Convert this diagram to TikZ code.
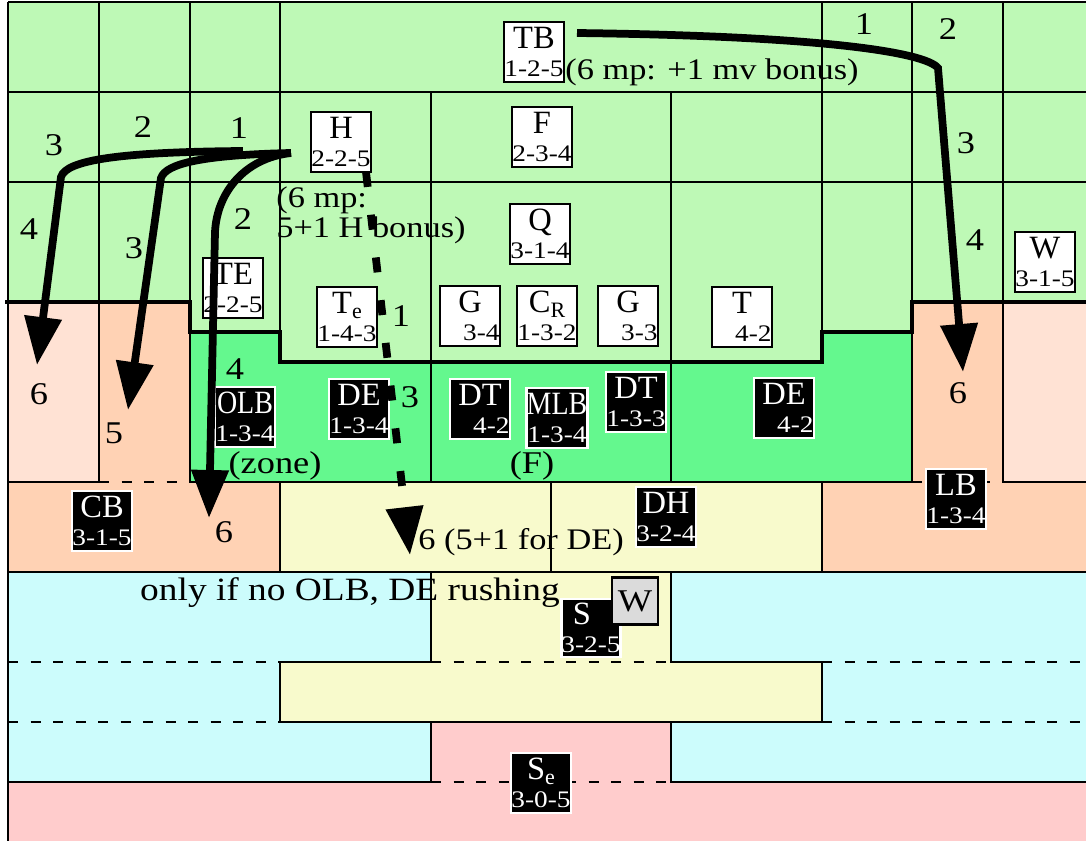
\documentclass[tikz,border=0pt]{standalone}
\usepackage{fontspec}
\setmainfont[FakeStretch=1.15]{Liberation Serif}
\newfontfamily\tagfont{Liberation Serif}
\newfontfamily\tagnarrow[FakeStretch=0.86]{Liberation Serif}
\usepackage{xcolor}
\definecolor{fieldgreen}{HTML}{BEF9B6}
\definecolor{linegreen}{HTML}{64F88E}
\definecolor{deepsalmon}{HTML}{FFD2B4}
\definecolor{palesalmon}{HTML}{FFE2D4}
\definecolor{zoneyellow}{HTML}{F8FACC}
\definecolor{zonecyan}{HTML}{CCFCFC}
\definecolor{zonepink}{HTML}{FFCCCC}
\usepackage{tikz}
\usetikzlibrary{arrows.meta}

\newcommand{\plr}[3][\tagfont]{{#1\fontsize{18.5}{18.5}\selectfont #2}\\#3}
\newcommand{\lowsub}[1]{\raisebox{-3pt}{\fontsize{12.5}{12.5}\selectfont #1}}

\begin{document}
\begin{tikzpicture}[x=0.2mm, y=-0.2mm,
      offbox/.style={draw=black, fill=white, line width=0.5mm, align=center, inner sep=0pt, minimum width=12mm, minimum height=12mm, font=\fontsize{13.5}{16}\selectfont},
      defbox/.style={offbox, draw=white, fill=black, text=white},
      lbl/.style={font=\fontsize{18}{18}\selectfont, inner sep=0pt},
      note/.style={font=\fontsize{17}{17}\selectfont, inner sep=0pt, align=left},
      gridline/.style={line width=0.56mm},
      bound/.style={line width=0.85mm},
      seam/.style={line width=0.5mm, dash pattern=on 2mm off 2.5mm},
      route/.style={line width=1.55mm, -{Triangle[length=9.6mm,width=7.2mm]}},
      fake/.style={route, dash pattern=on 3mm off 5.6mm}
    ]
    \useasboundingbox (0,0) rectangle (1086,841);
    \fill[fieldgreen] (8,2) -- (1086,2) -- (1086,302) -- (912,302) -- (912,332) -- (822,332) -- (822,362) -- (280,362) -- (280,332) -- (190,332) -- (190,302) -- (8,302) -- cycle;
    \fill[linegreen] (190,332) -- (280,332) -- (280,362) -- (822,362) -- (822,332) -- (912,332) -- (912,482) -- (190,482) -- cycle;
    \fill[palesalmon] (8,302) rectangle (99,482) (1003,302) rectangle (1086,482);
    \fill[deepsalmon] (99,302) rectangle (190,482) (912,302) rectangle (1003,482);
    \fill[deepsalmon] (8,482) rectangle (280,572) (822,482) rectangle (1086,572);
    \fill[zoneyellow] (280,482) rectangle (822,572);
    \fill[zonecyan] (8,572) rectangle (1086,782);
    \fill[zoneyellow] (431,572) -- (671,572) -- (671,662) -- (822,662) -- (822,722) -- (280,722) -- (280,662) -- (431,662) -- cycle;
    \fill[zonepink] (431,722) -- (671,722) -- (671,782) -- (1086,782) -- (1086,841) -- (8,841) -- (8,782) -- (431,782) -- cycle;

    \foreach \y in {2,92,182} \draw[gridline] (8,\y) -- (1086,\y);
    \foreach \x in {99,190,912,1003} \draw[gridline] (\x,2) -- (\x,482);
    \foreach \x in {280,822} {\draw[gridline] (\x,2) -- (\x,332); \draw[gridline] (\x,482) -- (\x,572);}
    \foreach \x in {431,671} \draw[gridline] (\x,92) -- (\x,482);
    \draw[gridline] (551,482) -- (551,572);
    \draw[gridline] (8,2) -- (8,841);
    \draw[gridline] (8,482) -- (99,482) (190,482) -- (912,482) (1003,482) -- (1086,482) (8,572) -- (1086,572);
    \draw[seam] (99,482) -- (190,482) (912,482) -- (1003,482);
    \draw[bound] (5,302) -- (190,302) -- (190,332) -- (280,332) -- (280,362) -- (822,362) -- (822,332) -- (912,332) -- (912,302) -- (1086,302);
    \draw[gridline] (431,572) -- (431,662) -- (280,662) -- (280,722) -- (822,722) -- (822,662) -- (671,662) -- (671,572);
    \draw[gridline] (8,782) -- (431,782) -- (431,722) (671,722) -- (671,782) -- (1086,782);
    \draw[seam] (8,662) -- (280,662) (431,662) -- (671,662) (822,662) -- (1086,662) (8,722) -- (280,722) (822,722) -- (1086,722) (431,782) -- (671,782);

    \node[offbox] (tb) at (534,52) {\plr{TB}{1-2-5}};
    \node[offbox] (hb) at (341,142) {\plr{H}{2-2-5}};
    \node[offbox] (fb) at (542,137) {\plr{F}{2-3-4}};
    \node[offbox] (qb) at (540,234) {\plr{Q}{3-1-4}};
    \node[offbox] (teb) at (233,288) {\plr{TE}{2-2-5}};
    \node[offbox] (tee) at (347,317) {\plr{T\lowsub{e}}{1-4-3}};
    \node[offbox] (g1) at (470,316) {\plr{G}{\phantom{1-}3-4}};
    \node[offbox] (cr) at (547,316) {\plr{C\lowsub{R}}{1-3-2}};
    \node[offbox] (g2) at (628,316) {\plr{G}{\phantom{1-}3-3}};
    \node[offbox] (tt) at (742,317) {\plr{T}{\phantom{1-}4-2}};
    \node[offbox] (wr) at (1045,262) {\plr{W}{3-1-5}};

    \node[defbox] (olb) at (245,417) {\plr[\tagnarrow]{OLB}{1-3-4}};
    \node[defbox] (de1) at (359,409) {\plr{DE}{1-3-4}};
    \node[defbox] (dt1) at (480,409) {\plr{DT}{\phantom{1-}4-2}};
    \node[defbox] (mlb) at (557,418) {\plr[\tagnarrow]{MLB}{1-3-4}};
    \node[defbox] (dt2) at (636,402) {\plr{DT}{1-3-3}};
    \node[defbox] (de2) at (784,408) {\plr{DE}{\phantom{1-}4-2}};
    \node[defbox] (cb) at (102,521) {\plr{CB}{3-1-5}};
    \node[defbox] (dh) at (666,517) {\plr{DH}{3-2-4}};
    \node[defbox] (lb) at (956,499) {\plr{LB}{1-3-4}};
    \node[defbox, minimum width=11.6mm, minimum height=11.6mm] (ss) at (591,628) {\plr{\hspace*{-3.6mm}S}{3-2-5}};
    \node[draw=black, fill=black!14, line width=0.5mm, inner sep=0pt, minimum width=9.2mm, minimum height=9.4mm, font=\fontsize{18}{18}\selectfont] (ww) at (635,601) {W};
    \node[defbox] (se) at (541,783) {\plr{S\lowsub{e}}{3-0-5}};

    \node[lbl] (r1) at (864,24) {1};
    \node[lbl] (r2) at (948,29) {2};
    \node[lbl] (r3) at (966,143) {3};
    \node[lbl] (r4) at (975,240) {4};
    \node[lbl] (r6) at (958,393) {6};
    \node[lbl] (a3) at (54,145) {3};
    \node[lbl] (a4) at (29,229) {4};
    \node[lbl] (a6) at (39,394) {6};
    \node[lbl] (b2) at (143,127) {2};
    \node[lbl] (b3) at (134,248) {3};
    \node[lbl] (b5) at (114,433) {5};
    \node[lbl] (c1) at (239,128) {1};
    \node[lbl] (c2) at (243,219) {2};
    \node[lbl] (c4) at (235,369) {4};
    \node[lbl] (c6) at (224,532) {6};
    \node[lbl] (d1) at (401,316) {1};
    \node[lbl] (d3) at (410,397) {3};
    \node[lbl] (zone) at (275,466) {(zone)};
    \node[lbl] (fzone) at (532,466) {(F)};
    \node[note] (tbnote) at (712,72) {(6 mp: +1 mv bonus)};
    \node[note, anchor=west] (hnote) at (276,215) {(6 mp:\\5+1 H bonus)};
    \node[note, anchor=west] (denote) at (418,542) {6 (5+1 for DE)};
    \node[lbl, font=\fontsize{18.5}{18.5}\selectfont] (rush) at (350,593) {only if no OLB, DE rushing};

    \coordinate (tbgo) at (577,33);
    \coordinate (tbturn) at (938,68);
    \coordinate (tbend) at (963,372);
    \coordinate (hgo) at (291,153);
    \coordinate (hgo2) at (243,151);
    \coordinate (aturn) at (61,177);
    \coordinate (aend) at (37,365);
    \coordinate (bturn) at (161,178);
    \coordinate (bend) at (128,410);
    \coordinate (cturn) at (215,232);
    \coordinate (cend) at (209,518);
    \coordinate (dgo) at (366,172);
    \coordinate (dend) at (410,555);
    \draw[route] (tbgo) .. controls (820,36) and (925,52) .. (tbturn) -- (tbend);
    \draw[route] (hgo2) .. controls (120,152) and (66,160) .. (aturn) -- (aend);
    \draw[route] (hgo) .. controls (205,155) and (166,163) .. (bturn) -- (bend);
    \draw[route] (hgo) .. controls (245,158) and (217,192) .. (cturn) -- (cend);
    \draw[fake] (dgo) -- (dend);
  \end{tikzpicture}
\end{document}
